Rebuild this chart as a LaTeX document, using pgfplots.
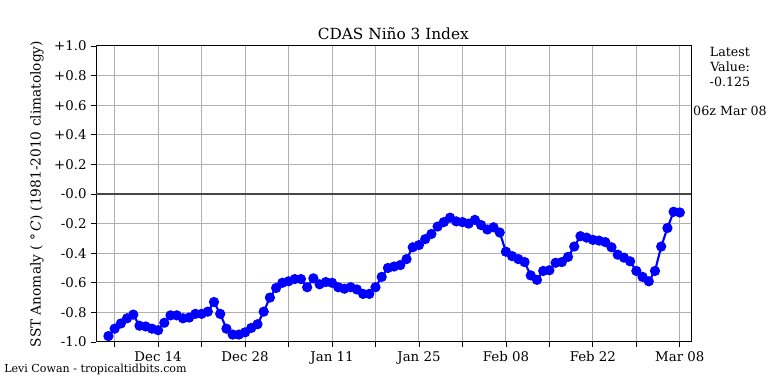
\documentclass[border=0pt]{standalone}
\usepackage{fontspec}
\setmainfont{DejaVu Serif}
\usepackage{pgfplots}
\usepackage{pgfplotstable}
\pgfplotsset{compat=1.18}
\pgfplotstableread{
d v
-8 -0.96
-7 -0.91
-6 -0.875
-5 -0.84
-4 -0.815
-3 -0.89
-2 -0.895
-1 -0.91
0 -0.92
1 -0.87
2 -0.82
3 -0.82
4 -0.84
5 -0.835
6 -0.81
7 -0.81
8 -0.795
9 -0.73
10 -0.81
11 -0.91
12 -0.95
13 -0.95
14 -0.935
15 -0.905
16 -0.88
17 -0.795
18 -0.70
19 -0.635
20 -0.60
21 -0.59
22 -0.575
23 -0.575
24 -0.63
25 -0.57
26 -0.61
27 -0.595
28 -0.60
29 -0.63
30 -0.64
31 -0.63
32 -0.645
33 -0.675
34 -0.675
35 -0.63
36 -0.56
37 -0.50
38 -0.49
39 -0.48
40 -0.44
41 -0.36
42 -0.345
43 -0.305
44 -0.27
45 -0.22
46 -0.19
47 -0.16
48 -0.185
49 -0.19
50 -0.20
51 -0.175
52 -0.21
53 -0.24
54 -0.225
55 -0.26
56 -0.39
57 -0.42
58 -0.44
59 -0.46
60 -0.55
61 -0.58
62 -0.52
63 -0.515
64 -0.465
65 -0.46
66 -0.425
67 -0.355
68 -0.285
69 -0.295
70 -0.31
71 -0.315
72 -0.325
73 -0.36
74 -0.41
75 -0.43
76 -0.455
77 -0.52
78 -0.56
79 -0.59
80 -0.52
81 -0.355
82 -0.23
83 -0.12
84 -0.125
}\nino
\begin{document}
\begin{tikzpicture}
\useasboundingbox (0,0) rectangle (576pt,288pt);
\begin{axis}[
  at={(72pt,31.5pt)}, anchor=south west,
  scale only axis, width=446.25pt, height=222pt,
  xmin=-10, xmax=85.8, ymin=-1, ymax=1,
  xtick={-7,0,7,14,21,28,35,42,49,56,63,70,77,84},
  xticklabels={,Dec 14,,Dec 28,,Jan 11,,Jan 25,,Feb 08,,Feb 22,,Mar 08},
  ytick={-1,-0.8,-0.6,-0.4,-0.2,0,0.2,0.4,0.6,0.8,1},
  yticklabels={-1.0,-0.8,-0.6,-0.4,-0.2,-0.0,+0.2,+0.4,+0.6,+0.8,+1.0},
  xtick pos=bottom, ytick pos=left,
  tick align=outside, major tick length=3.5pt,
  tick style={black, line width=0.6pt},
  grid=major,
  major grid style={color=black!31, line width=0.75pt},
  axis line style={line width=0.75pt},
  ticklabel style={font=\fontsize{10}{12}\selectfont},
  /pgf/number format/assume math mode=true,
  clip=false,
]
\addplot[color=black!72, line width=1.1pt] coordinates {(-10,0) (85.8,0)};
\addplot[color=blue, line width=1.6pt, mark=*, mark size=3pt, mark options={fill=blue, draw=blue}] table[x=d, y=v] {\nino};
\end{axis}
\node[font=\fontsize{11.5}{13}\selectfont] at (295pt,263pt) {CDAS Niño 3 Index};
\node[rotate=90, font=\fontsize{10.3}{12}\selectfont] at (27.75pt,142.5pt) {SST Anomaly ( °\,\textit{C}) (1981-2010 climatology)};
\node[anchor=west, inner sep=0pt, font=\fontsize{8.3}{10}\selectfont] at (3pt,11.25pt) {Levi Cowan - tropicaltidbits.com};
\node[align=center, font=\fontsize{9.5}{11.25}\selectfont] at (547.5pt,238pt) {Latest\\Value:\\-0.125};
\node[font=\fontsize{9.5}{11}\selectfont] at (547.5pt,204.75pt) {06z Mar 08};
\end{tikzpicture}
\end{document}
